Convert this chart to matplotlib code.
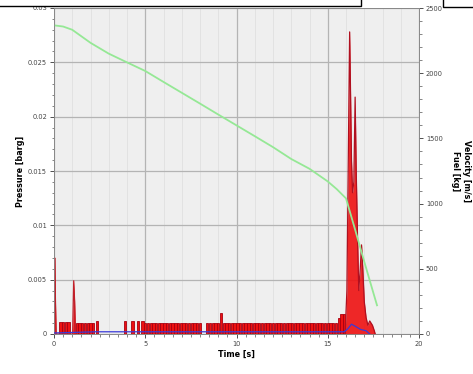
import matplotlib
matplotlib.use("Agg")
import matplotlib.pyplot as plt
from matplotlib.patches import Rectangle
from matplotlib.ticker import MultipleLocator

# ---------------- data ----------------
# Pressure pulses (left axis, barg): time and height of each pulse
pulse_t = [0.35, 0.5, 0.65, 0.8,
           1.25, 1.4, 1.55, 1.7, 1.85, 2.0, 2.15, 2.35,
           3.9, 4.3, 4.6, 4.85,
           5.0, 5.15, 5.3, 5.45, 5.6, 5.75, 5.9, 6.05, 6.2, 6.35, 6.5, 6.65, 6.8, 6.95,
           7.1, 7.25, 7.4, 7.55, 7.7, 7.85, 8.0, 8.4, 8.55, 8.7, 8.85, 9.0, 9.15, 9.3,
           9.45, 9.6, 9.75, 9.9, 10.05, 10.2, 10.35, 10.5, 10.65, 10.8, 10.95, 11.1,
           11.25, 11.4, 11.55, 11.7, 11.85, 12.0, 12.15, 12.3, 12.45, 12.6, 12.75, 12.9,
           13.05, 13.2, 13.35, 13.5, 13.65, 13.8, 13.95, 14.1, 14.25, 14.4, 14.55, 14.7,
           14.85, 15.0, 15.15, 15.3, 15.45, 15.6, 15.75, 15.9]
pulse_h = [0.0011, 0.0011, 0.0011, 0.0011,
           0.0010, 0.0010, 0.0010, 0.0010, 0.0010, 0.0010, 0.0010, 0.0012,
           0.0012, 0.0012, 0.0012, 0.0012,
           0.0010, 0.0010, 0.0010, 0.0010, 0.0010, 0.0010, 0.0010, 0.0010, 0.0010, 0.0010, 0.0010, 0.0010, 0.0010, 0.0010,
           0.0010, 0.0010, 0.0010, 0.0010, 0.0010, 0.0010, 0.0010, 0.0010, 0.0010, 0.0010, 0.0010, 0.0010, 0.0019, 0.0010,
           0.0010, 0.0010, 0.0010, 0.0010, 0.0010, 0.0010, 0.0010, 0.0010, 0.0010, 0.0010, 0.0010, 0.0010,
           0.0010, 0.0010, 0.0010, 0.0010, 0.0010, 0.0010, 0.0010, 0.0010, 0.0010, 0.0010, 0.0010, 0.0010,
           0.0010, 0.0010, 0.0010, 0.0010, 0.0010, 0.0010, 0.0010, 0.0010, 0.0010, 0.0010, 0.0010, 0.0010,
           0.0010, 0.0010, 0.0010, 0.0010, 0.0010, 0.0015, 0.0018, 0.0018]

# Pressure spikes (left axis, barg)
spike_t = [0.0, 0.04, 0.08, 0.12,
           1.02, 1.08, 1.13, 1.18]
spike_v = [0.0, 0.0070, 0.0030, 0.0,
           0.0, 0.0049, 0.0030, 0.0]
burst_t = [15.95, 16.05, 16.15, 16.2, 16.25, 16.3, 16.36, 16.43, 16.5, 16.56, 16.63,
           16.7, 16.78, 16.85, 16.92, 17.0, 17.1, 17.2, 17.3, 17.45, 17.55, 17.6]
burst_v = [0.0, 0.0040, 0.0200, 0.0278, 0.0220, 0.0160, 0.0130, 0.0140, 0.0218, 0.0150, 0.0090,
           0.0040, 0.0060, 0.0082, 0.0060, 0.0030, 0.0015, 0.0008, 0.0012, 0.0008, 0.0003, 0.0]

# Fuel [kg] (right axis)
fuel_t = [0.0, 0.5, 1.0, 2.0, 3.0, 4.0, 5.0, 6.0, 7.0, 8.0, 9.0, 10.0, 11.0, 12.0,
          13.0, 14.0, 15.0, 15.5, 16.0, 16.5, 17.0, 17.5, 17.7]
fuel_v = [2367, 2358, 2333, 2233, 2150, 2083, 2017, 1933, 1850, 1767, 1683, 1600, 1517, 1433,
          1342, 1267, 1170, 1110, 1040, 800, 555, 315, 220]

# Velocity [m/s] (right axis)
vel_t = [0.0, 2.3, 3.9, 15.9, 16.1, 16.3, 16.5, 16.8, 17.1, 17.3]
vel_v = [8, 17, 17, 17, 40, 75, 60, 35, 25, 0]

x_ticks = [0, 5, 10, 15, 20]
x_fine = [1, 2, 3, 4, 6, 7, 8, 9, 11, 12, 13, 14, 16, 17, 18, 19]
p_ticks = [0, 0.005, 0.01, 0.015, 0.02, 0.025, 0.03]
p_labels = ["0", "0.005", "0.01", "0.015", "0.02", "0.025", "0.03"]
r_ticks = [0, 500, 1000, 1500, 2000, 2500]

# ---------------- figure ----------------
fig = plt.figure(figsize=(4.73, 3.74), dpi=100)
ax = fig.add_axes([54 / 473, 40 / 374, (419 - 54) / 473, (334 - 8) / 374])
ax.set_facecolor("#efefef")
ax.set_xlim(0, 20)
ax.set_ylim(0, 0.03)

ax.set_xticks(x_ticks)
ax.xaxis.set_minor_locator(MultipleLocator(0.5))
ax.set_yticks(p_ticks)
ax.set_yticklabels(p_labels)
ax.yaxis.set_minor_locator(MultipleLocator(0.001))
ax.grid(True, which="major", color="#b4b4b4", lw=0.9)
for xf in x_fine:
    ax.axvline(xf, color="#e0e0e0", lw=0.6, zorder=0.5)
ax.set_axisbelow(True)

ax2 = ax.twinx()
ax2.set_ylim(0, 2500)
ax2.set_yticks(r_ticks)
ax2.yaxis.set_minor_locator(MultipleLocator(100))

# pressure pulses
ax.bar(pulse_t, pulse_h, width=0.13, color="#ee1111", edgecolor="#a80010",
       linewidth=0.6, align="center", zorder=3)
ax.fill_between(spike_t, spike_v, 0, color="#ee1111", lw=0, zorder=3)
ax.plot(spike_t, spike_v, color="#c0202a", lw=0.9, zorder=4)
ax.fill_between(burst_t, burst_v, 0, color="#ee1111", alpha=0.9, lw=0, zorder=3)
ax.plot(burst_t, burst_v, color="#b01020", lw=0.9, zorder=4)

# right axis series
ax2.plot(fuel_t, fuel_v, color="#95e895", lw=1.3, zorder=2)
ax2.plot(vel_t, vel_v, color="#3a3ad8", lw=0.9, zorder=5)

# styling
for a in (ax, ax2):
    a.tick_params(which="major", direction="out", length=3, width=0.6,
                  labelsize=4.8, colors="#333333", pad=2)
    a.tick_params(which="minor", direction="out", length=1.8, width=0.5, colors="#555555")
    for s in a.spines.values():
        s.set_color("#888888")
        s.set_linewidth(0.6)
ax2.tick_params(axis="y", labelcolor="#444444")
ax.tick_params(axis="both", labelcolor="#444444")

ax.set_xlabel("Time [s]", fontsize=5.8, fontweight="bold", labelpad=2)
ax.set_ylabel("Pressure [barg]", fontsize=5.8, fontweight="bold", labelpad=2)
ax2.set_ylabel("Velocity [m/s]\nFuel [kg]", fontsize=5.8, fontweight="bold",
               rotation=270, labelpad=20, linespacing=1.3)

# clipped legend boxes at top
fig.patches.append(Rectangle((-0.01, (374 - 5.5) / 374), 361 / 473 + 0.01, 0.05,
                             transform=fig.transFigure, facecolor="white",
                             edgecolor="black", lw=1.0, zorder=10))
fig.patches.append(Rectangle((443 / 473, (374 - 7) / 374), 0.1, 0.05,
                             transform=fig.transFigure, facecolor="white",
                             edgecolor="black", lw=1.0, zorder=10))

fig.savefig("out.png", dpi=100)
